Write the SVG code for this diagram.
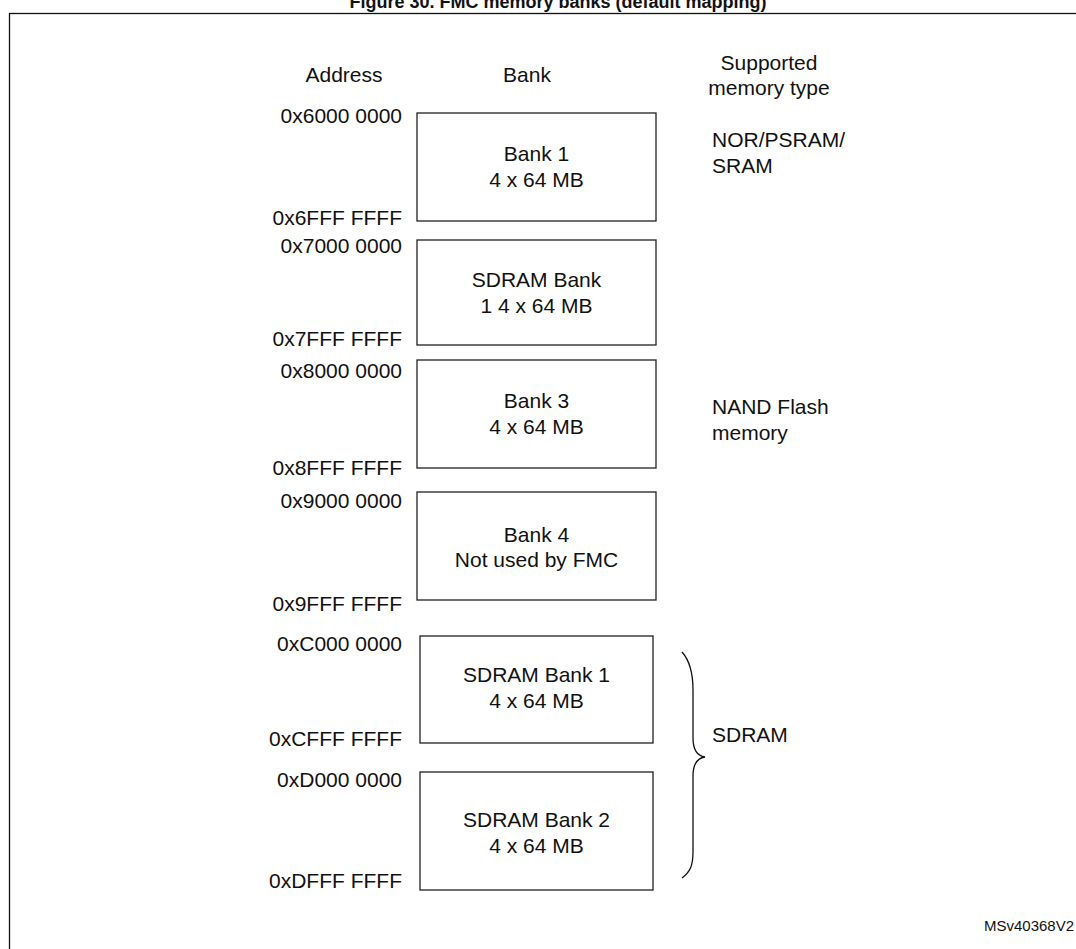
<svg xmlns="http://www.w3.org/2000/svg" width="1076" height="949" viewBox="0 0 1076 949">
<style>
text{font-family:"Liberation Sans",Arial,sans-serif;font-size:21px;fill:#111}
.t{font-weight:bold;font-size:18px}
.a{text-anchor:end}
.m{text-anchor:middle}
.s{font-size:15px}
.box{fill:#fff;stroke:#222;stroke-width:1.3}
.brace{fill:none;stroke:#111;stroke-width:1.3}
</style>
<rect width="1076" height="949" fill="#fff"/>
<text class="t m" x="558" y="8">Figure 30. FMC memory banks (default mapping)</text>
<rect x="9.5" y="13.5" width="1100" height="1000" fill="none" stroke="#111" stroke-width="1.3"/>
<g id="headers">
<text class="m" x="344" y="82">Address</text>
<text class="m" x="527" y="82">Bank</text>
<text class="m" x="769" y="70">Supported</text>
<text class="m" x="769" y="95">memory type</text>
</g>
<g id="addresses">
<text class="a" x="402" y="123">0x6000 0000</text>
<text class="a" x="402" y="225">0x6FFF FFFF</text>
<text class="a" x="402" y="253">0x7000 0000</text>
<text class="a" x="402" y="346">0x7FFF FFFF</text>
<text class="a" x="402" y="378">0x8000 0000</text>
<text class="a" x="402" y="475">0x8FFF FFFF</text>
<text class="a" x="402" y="508">0x9000 0000</text>
<text class="a" x="402" y="611">0x9FFF FFFF</text>
<text class="a" x="402" y="651">0xC000 0000</text>
<text class="a" x="402" y="746">0xCFFF FFFF</text>
<text class="a" x="402" y="787">0xD000 0000</text>
<text class="a" x="402" y="888">0xDFFF FFFF</text>
</g>
<g id="bank1">
<rect class="box" x="417" y="113" width="239" height="108"/>
<text class="m" x="536.5" y="161">Bank 1</text>
<text class="m" x="536.5" y="187">4 x 64 MB</text>
</g>
<g id="bank2">
<rect class="box" x="417" y="240" width="239" height="105"/>
<text class="m" x="536.5" y="287">SDRAM Bank</text>
<text class="m" x="536.5" y="313">1 4 x 64 MB</text>
</g>
<g id="bank3">
<rect class="box" x="417" y="360" width="239" height="108"/>
<text class="m" x="536.5" y="408">Bank 3</text>
<text class="m" x="536.5" y="434">4 x 64 MB</text>
</g>
<g id="bank4">
<rect class="box" x="417" y="492" width="239" height="108"/>
<text class="m" x="536.5" y="542">Bank 4</text>
<text class="m" x="536.5" y="567">Not used by FMC</text>
</g>
<g id="sdram1">
<rect class="box" x="420" y="636" width="233" height="107"/>
<text class="m" x="536.5" y="682">SDRAM Bank 1</text>
<text class="m" x="536.5" y="708">4 x 64 MB</text>
</g>
<g id="sdram2">
<rect class="box" x="420" y="772" width="233" height="118"/>
<text class="m" x="536.5" y="827">SDRAM Bank 2</text>
<text class="m" x="536.5" y="853">4 x 64 MB</text>
</g>
<g id="types">
<text x="712" y="147">NOR/PSRAM/</text>
<text x="712" y="173">SRAM</text>
<text x="712" y="414">NAND Flash</text>
<text x="712" y="440">memory</text>
<text x="712" y="742">SDRAM</text>
</g>
<g id="connectors">
<path class="brace" d="M682,652 C691,662 693,675 693,690 L693,738 C693,750 698,756 705,757 C698,758 693,764 693,776 L693,852 C693,866 690,872 682,878"/>
</g>
<text class="s" x="984" y="931">MSv40368V2</text>
</svg>
